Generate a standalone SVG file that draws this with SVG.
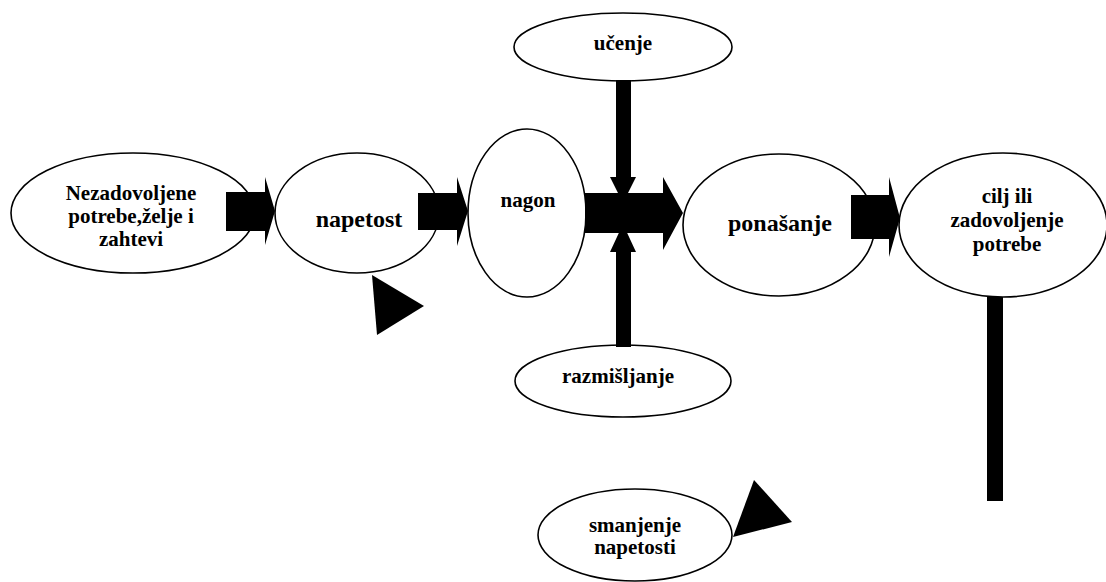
<svg xmlns="http://www.w3.org/2000/svg" width="1106" height="582" viewBox="0 0 1106 582">
<style>
.n{fill:#fff;stroke:#000;stroke-width:1.6}
text{font-family:'Liberation Serif','DejaVu Serif',serif;font-weight:700;font-size:21px;fill:#000;text-anchor:middle}
text.big{font-size:24px}
.c{fill:#000;stroke:none}
</style>
<rect width="1106" height="582" fill="#fff"/>
<g id="node-nezadovoljene">
<ellipse class="n" cx="133" cy="213" rx="122" ry="60"/>
<text x="131" y="200">Nezadovoljene</text>
<text x="131" y="223">potrebe,želje i</text>
<text x="131" y="246">zahtevi</text>
</g>
<g id="node-napetost">
<ellipse class="n" cx="357" cy="213" rx="82" ry="60"/>
<text class="big" x="359" y="227">napetost</text>
</g>
<g id="node-nagon">
<ellipse class="n" cx="527" cy="213" rx="59" ry="84"/>
<text x="528" y="207">nagon</text>
</g>
<g id="node-ucenje">
<ellipse class="n" cx="623" cy="47" rx="109" ry="34"/>
<text x="623" y="50">učenje</text>
</g>
<g id="node-razmisljanje">
<ellipse class="n" cx="623" cy="381" rx="108" ry="36"/>
<text x="618" y="383">razmišljanje</text>
</g>
<g id="node-ponasanje">
<ellipse class="n" cx="779" cy="225" rx="96" ry="71"/>
<text class="big" x="780" y="231">ponašanje</text>
</g>
<g id="node-cilj">
<ellipse class="n" cx="1003" cy="225" rx="104" ry="72"/>
<text x="1007" y="203">cilj ili</text>
<text x="1007" y="227">zadovoljenje</text>
<text x="1007" y="251">potrebe</text>
</g>
<g id="node-smanjenje">
<ellipse class="n" cx="635" cy="535" rx="97" ry="46"/>
<text x="635" y="532">smanjenje</text>
<text x="635" y="554">napetosti</text>
</g>
<g id="connectors">
<polygon class="c" points="226,192 265,192 265,177 275,211 265,245 265,231 226,231"/>
<polygon class="c" points="418,193 457,193 457,177 468,211 457,246 457,230 418,230"/>
<polygon class="c" points="585,193 663,193 663,177 683,213 663,250 663,233 585,233"/>
<polygon class="c" points="616,80 631,80 631,177 636,177 623,203 610,177 616,177"/>
<polygon class="c" points="616,347 631,347 631,252 636,252 623,224 610,252 616,252"/>
<polygon class="c" points="851,195 889,195 889,177 900,218 889,257 889,239 851,239"/>
<rect class="c" x="987" y="297" width="16" height="204"/>
<polygon class="c" points="372,275 424,306 377,335"/>
<polygon class="c" points="754,480 792,522 733,537"/>
</g>
</svg>
